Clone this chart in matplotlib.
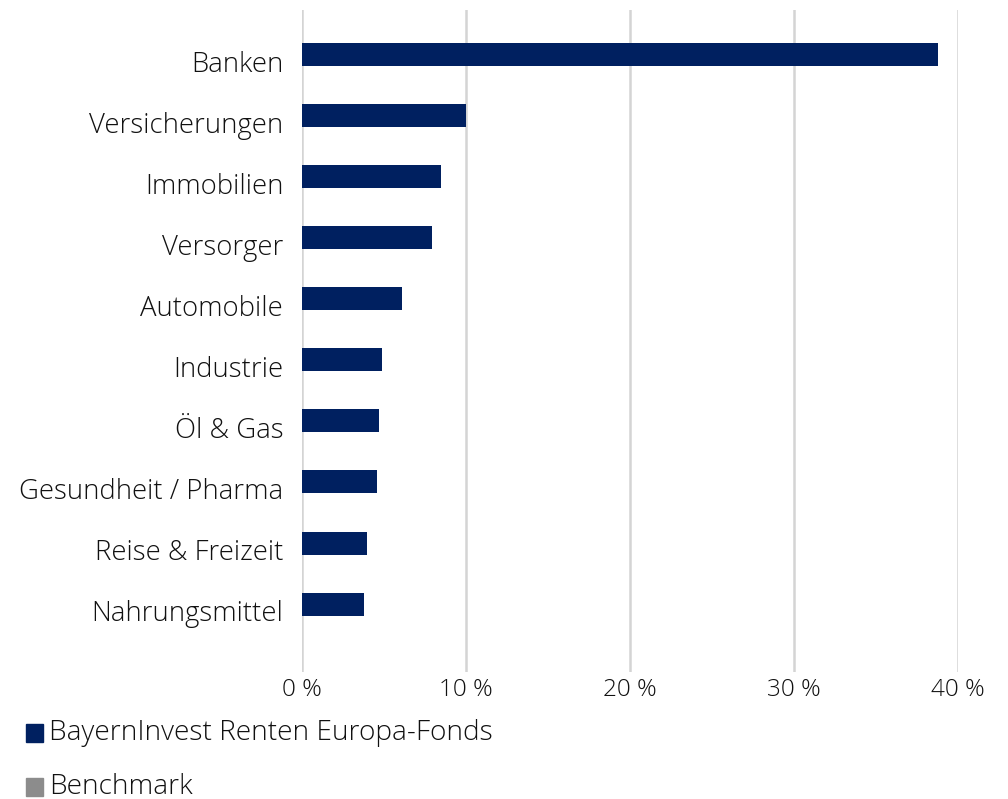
import matplotlib
matplotlib.use("Agg")
import matplotlib.pyplot as plt
from matplotlib.patches import Rectangle
import numpy as np

categories = ["Banken", "Versicherungen", "Immobilien", "Versorger", "Automobile",
              "Industrie", "Öl & Gas", "Gesundheit / Pharma", "Reise & Freizeit",
              "Nahrungsmittel"]
fund_values = [38.8, 10.0, 8.5, 7.9, 6.1, 4.9, 4.7, 4.55, 3.95, 3.8]
benchmark_values = [0, 0, 0, 0, 0, 0, 0, 0, 0, 0]
series_names = ["BayernInvest Renten Europa-Fonds", "Benchmark"]
xticks = [0, 10, 20, 30, 40]
xtick_labels = ["0 %", "10 %", "20 %", "30 %", "40 %"]

fund_color = "#002060"
bench_color = "#8c8c8c"
text_color = "#111111"

plt.rcParams['font.family'] = ['Open Sans', 'DejaVu Sans']
plt.rcParams['font.weight'] = 'light'

fig = plt.figure(figsize=(10.08, 7.99), dpi=100)
ax = fig.add_axes([302/1008, 1-672/799, (958-302)/1008, (672-10)/799])

y = np.arange(len(categories))
h = 0.376
ax.barh(y - 0.11, fund_values, height=h, color=fund_color, zorder=3)
ax.barh(y - 0.11 + h, benchmark_values, height=h, color=bench_color, zorder=3)

ax.set_xlim(0, 40)
ax.set_ylim(10.0, -0.835)
ax.set_yticks(y)
ax.set_yticklabels(categories, fontsize=19.8, color=text_color, fontweight='light')
ax.set_xticks(xticks)
ax.set_xticklabels(xtick_labels, fontsize=17.5, color=text_color, fontweight='light')
ax.tick_params(axis='both', length=0)
ax.tick_params(axis='y', pad=13.5)
ax.tick_params(axis='x', pad=4)
ax.grid(axis='x', color='#d4d4d4', linewidth=1.8, zorder=0)
for s in ax.spines.values():
    s.set_visible(False)

# legend
leg_y = [733, 787]
for name, col, yy in zip(series_names, [fund_color, bench_color], leg_y):
    fig.patches.append(Rectangle((26/1008, 1-(yy+9)/799), 17/1008, 18/799,
                                 transform=fig.transFigure, color=col))
    fig.text(49/1008, 1-yy/799, name, fontsize=20.2, color=text_color,
             va='center', ha='left', fontweight='light')

fig.savefig("out.png", dpi=100)
